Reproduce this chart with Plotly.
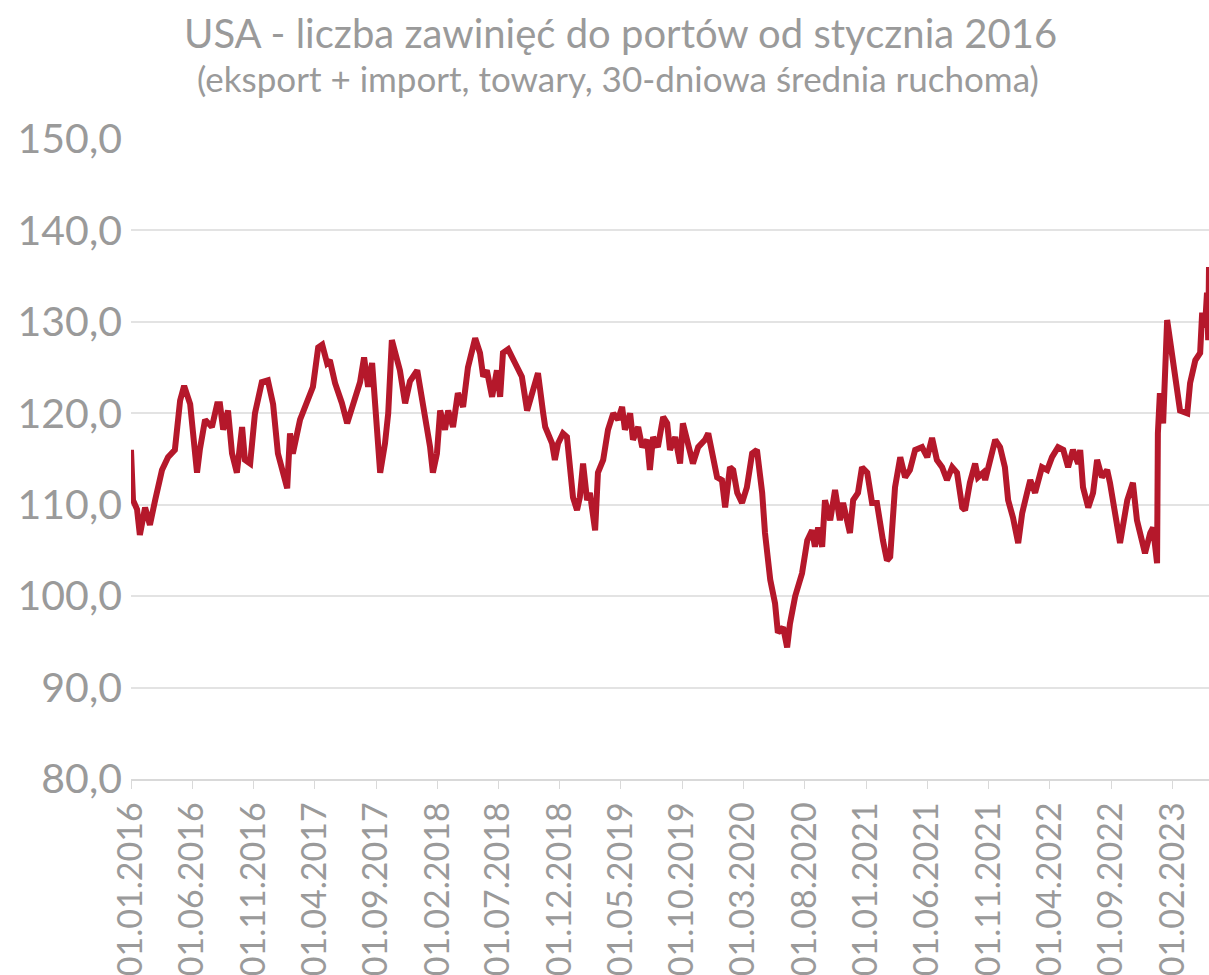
import pandas as pd
import plotly.graph_objects as go

# dni od 01.01.2016 i wartosci
dni = [0, 2, 5, 15, 22, 35, 47, 60, 77, 92, 109, 122, 132, 147, 164, 171, 184, 201, 214,
       221, 229, 241, 251, 263, 276, 283, 296, 308, 325, 340, 353, 365, 388, 395, 402, 420, 440, 452, 465,
       475, 487, 494, 507, 524, 537, 544, 557, 569, 579, 589, 599, 611, 619, 631, 639, 648, 656, 668, 681,
       693, 711, 718, 725, 743, 750, 760, 768, 780, 788, 800, 812, 825, 837, 855, 867, 875, 884, 897, 909,
       917, 924, 937, 954, 971, 984, 996, 1011, 1024, 1029, 1046, 1053, 1061, 1073, 1083, 1091, 1098, 1108,
       1115, 1123, 1133, 1140, 1153, 1160, 1173, 1185, 1198, 1210, 1220, 1227, 1240, 1247, 1260, 1270, 1282,
       1289, 1297, 1309, 1322, 1332, 1339, 1352, 1364, 1371, 1384, 1396, 1409, 1426, 1434, 1446, 1456, 1468,
       1476, 1488, 1496, 1506, 1518, 1530, 1543, 1555, 1568, 1575, 1588, 1600, 1607, 1620, 1630, 1637, 1650,
       1667, 1680, 1692, 1699, 1707, 1717, 1724, 1737, 1749, 1761, 1769, 1786, 1794, 1806, 1816, 1829, 1841,
       1853, 1868, 1878, 1886, 1898, 1911, 1923, 1935, 1948, 1965, 1978, 1990, 2002, 2015, 2027, 2040, 2052,
       2065, 2072, 2084, 2097, 2104, 2117, 2122, 2139, 2147, 2159, 2171, 2179, 2191, 2204, 2214, 2226, 2234,
       2246, 2263, 2276, 2288, 2303, 2316, 2328, 2340, 2353, 2358, 2365, 2378, 2390, 2400, 2412, 2425, 2432,
       2445, 2457, 2475, 2482, 2489, 2499, 2512, 2519, 2532, 2539, 2549, 2551, 2556, 2564, 2574, 2586, 2594,
       2606, 2624, 2631, 2644, 2656, 2661, 2668, 2673, 2676, 2678]

zawiniecia = [116.0, 113.5, 110.5, 109.5, 106.7, 109.7, 107.8, 110.5, 113.8, 115.2, 116.0, 121.4, 123.0, 121.0, 113.5, 116.0, 119.3, 118.5, 121.0,
              121.0, 118.2, 120.3, 115.6, 113.5, 118.5, 114.9, 114.5, 120.0, 123.4, 123.6, 121.0, 115.6, 111.8, 117.8, 115.6, 119.3, 121.5, 122.9, 127.2,
              127.5, 125.5, 125.8, 123.3, 121.1, 118.9, 120.0, 121.8, 123.4, 126.1, 122.9, 125.5, 119.3, 113.5, 116.7, 120.0, 128.0, 126.6, 124.7, 121.1,
              123.5, 124.7, 122.9, 121.8, 116.3, 113.5, 115.6, 120.3, 118.2, 120.3, 118.5, 122.2, 120.7, 125.0, 128.2, 126.6, 124.0, 124.7, 121.8, 124.7,
              121.8, 126.6, 127.0, 125.5, 124.0, 120.3, 122.2, 124.4, 120.0, 118.5, 116.7, 114.9, 116.7, 117.8, 117.4, 113.0, 110.8, 109.4,
              110.8, 114.5, 110.5, 111.3, 107.2, 113.5, 114.9, 118.2, 120.0, 119.3, 120.7, 118.2, 120.0, 117.1, 118.5, 116.3, 117.1,
              113.8, 117.4, 116.3, 119.6, 118.9, 116.0, 117.4, 114.5, 118.9, 116.7, 114.5, 116.3, 117.1, 117.8, 114.9, 113.0, 112.7,
              109.7, 114.1, 113.8, 111.3, 110.2, 111.9, 115.6, 116.0, 111.3, 106.9, 101.8, 99.2, 96.0, 96.6, 94.4, 97.0, 100.0,
              102.5, 106.1, 107.2, 105.4, 107.5, 105.4, 110.5, 108.3, 111.6, 108.3, 110.2, 106.9, 110.5, 111.3, 114.1, 113.5, 110.2,
              110.2, 106.1, 103.9, 104.3, 111.9, 115.2, 113.0, 113.8, 116.0, 116.3, 115.2, 117.3, 114.9, 114.1, 112.7, 114.1, 113.5,
              109.7, 109.4, 112.4, 114.5, 113.0, 113.5, 112.7, 115.6, 117.1, 116.3, 114.1, 110.5, 108.6, 105.8, 109.1, 111.3, 112.7,
              111.3, 114.1, 113.8, 115.2, 116.3, 116.0, 114.1, 116.0, 114.5, 116.0, 111.9, 109.7, 111.3, 114.9, 113.0, 113.8, 112.4,
              109.1, 105.8, 110.5, 111.6, 112.4, 108.3, 106.1, 104.7, 106.9, 107.5, 103.6, 117.8, 122.2, 118.9, 130.2, 126.1, 123.6,
              120.3, 120.0, 123.3, 125.8, 126.6, 131.0, 129.4, 133.2, 128.0, 136.0]

daty = pd.Timestamp("2016-01-01") + pd.to_timedelta(dni, unit="D")
ticki = pd.date_range("2016-01-01", "2023-02-01", freq="5MS")

szary = "#9a9a9a"

fig = go.Figure()
fig.add_scatter(x=daty, y=zawiniecia, mode="lines",
                line=dict(color="#b5182b", width=6), showlegend=False)

fig.update_layout(
    width=1209, height=975,
    margin=dict(l=131, r=0, t=139, b=196),
    paper_bgcolor="white", plot_bgcolor="white",
    separators=", ",
    font=dict(family="Lato", color=szary),
    annotations=[
        dict(text="USA - liczba zawinięć do portów od stycznia 2016", x=0.4545, y=1 + (139 - 33) / 640,
             xref="paper", yref="paper", xanchor="center", yanchor="middle", showarrow=False,
             font=dict(size=40, color=szary)),
        dict(text="(eksport + import, towary, 30-dniowa średnia ruchoma)", x=0.452, y=1 + (139 - 78) / 640,
             xref="paper", yref="paper", xanchor="center", yanchor="middle", showarrow=False,
             font=dict(size=35, color=szary)),
    ],
)

fig.update_yaxes(range=[80, 150], dtick=10, tickformat=".1f",
                 gridcolor="#e3e3e3", gridwidth=1.5, zeroline=False,
                 tickfont=dict(size=41, color=szary), ticks="", ticklabelstandoff=8)
fig.update_xaxes(range=[daty[0], daty[-1]], tickvals=ticki,
                 ticktext=[t.strftime("%d.%m.%Y") for t in ticki],
                 tickangle=-90, tickfont=dict(size=34, color=szary),
                 showgrid=False, showline=True, linecolor="#d9d9d9", linewidth=1.5,
                 ticks="outside", tickcolor="#d9d9d9", ticklen=8)

# bez marginesu body, zeby strona miala dokladnie 1209x975
fig.write_html("out.html", config={"displayModeBar": False},
               post_script="document.body.style.margin='0';"
               "document.body.style.overflow='hidden';"
               "document.documentElement.style.overflow='hidden';")
